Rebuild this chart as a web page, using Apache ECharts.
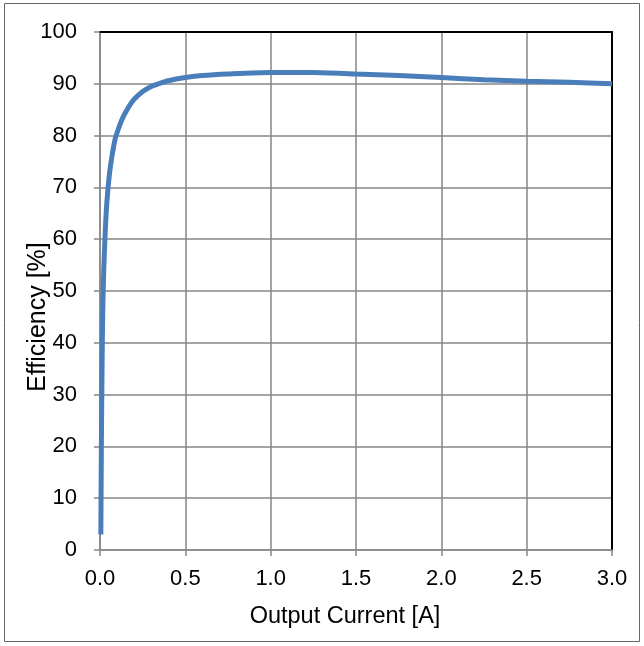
<!DOCTYPE html>
<html>
<head>
<meta charset="utf-8">
<script src="https://cdn.jsdelivr.net/npm/echarts@6/dist/echarts.min.js"></script>
<style>
html,body{margin:0;padding:0;background:#fff;}
#c{width:644px;height:646px;}
</style>
</head>
<body>
<div id="c"></div>
<script>
const currentA = [0.005, 0.008, 0.012, 0.016, 0.022, 0.03, 0.04, 0.055, 0.07, 0.09, 0.11, 0.13, 0.15, 0.175, 0.2, 0.25, 0.3, 0.35, 0.4, 0.5, 0.6, 0.75, 1.0, 1.25, 1.5, 1.75, 2.0, 2.25, 2.5, 2.75, 3.0];
const efficiency = [3, 20, 35, 46, 54, 61, 67, 72.5, 76, 79.5, 81.5, 83.2, 84.5, 85.9, 87, 88.5, 89.5, 90.1, 90.6, 91.2, 91.6, 91.9, 92.2, 92.2, 91.9, 91.6, 91.2, 90.8, 90.5, 90.3, 90.0];
const xTicks = [0, 0.5, 1.0, 1.5, 2.0, 2.5, 3.0];
const yTicks = [0, 10, 20, 30, 40, 50, 60, 70, 80, 90, 100];

const chart = echarts.init(document.getElementById('c'), null, {renderer: 'canvas'});
const font = '"Liberation Sans", Arial, sans-serif';
const grid = '#868686';
chart.setOption({
  animation: false,
  backgroundColor: '#fff',
  graphic: [{
    type: 'rect', shape: {x: 4.5, y: 3.5, width: 635, height: 638},
    style: {fill: 'none', stroke: '#666', lineWidth: 1}, z: -1
  }],
  grid: {left: 100, right: 32, top: 32, bottom: 96},
  xAxis: [{
    type: 'value', min: xTicks[0], max: xTicks[xTicks.length - 1], interval: 0.5,
    name: 'Output Current [A]', nameLocation: 'middle', nameGap: 55,
    nameMoveOverlap: false,
    nameTextStyle: {fontFamily: font, fontSize: 23.5, color: '#000', padding: [0, 22, 0, 0]},
    axisLine: {show: true, lineStyle: {color: grid, width: 1.5}},
    axisTick: {show: true, length: 6, lineStyle: {color: grid, width: 1.5}},
    axisLabel: {fontFamily: font, fontSize: 22, color: '#000', margin: 18,
      formatter: v => v.toFixed(1)},
    splitLine: {show: true, lineStyle: {color: grid, width: 1.5}}
  }, {
    type: 'value', position: 'top', min: 0, max: 3,
    axisLine: {show: true, onZero: false, lineStyle: {color: '#000', width: 2}},
    axisTick: {show: false}, axisLabel: {show: false}, splitLine: {show: false}
  }],
  yAxis: [{
    type: 'value', min: yTicks[0], max: yTicks[yTicks.length - 1], interval: 10,
    name: 'Efficiency [%]', nameLocation: 'middle', nameGap: 49,
    nameMoveOverlap: false,
    nameTextStyle: {fontFamily: font, fontSize: 25, color: '#000', padding: [0, 52, 0, 0]},
    axisLine: {show: true, lineStyle: {color: grid, width: 1.5}},
    axisTick: {show: true, length: 6, lineStyle: {color: grid, width: 1.5}},
    axisLabel: {fontFamily: font, fontSize: 22, color: '#000', margin: 23},
    splitLine: {show: true, lineStyle: {color: grid, width: 1.5}}
  }, {
    type: 'value', position: 'right', min: 0, max: 100,
    axisLine: {show: true, onZero: false, lineStyle: {color: '#000', width: 2}},
    axisTick: {show: false}, axisLabel: {show: false}, splitLine: {show: false}
  }],
  series: [{
    type: 'line',
    data: currentA.map((x, i) => [x, efficiency[i]]),
    smooth: 0.25,
    showSymbol: false, symbol: 'none',
    lineStyle: {color: '#4a7ebb', width: 5},
    z: 10
  }]
});
</script>
</body>
</html>
